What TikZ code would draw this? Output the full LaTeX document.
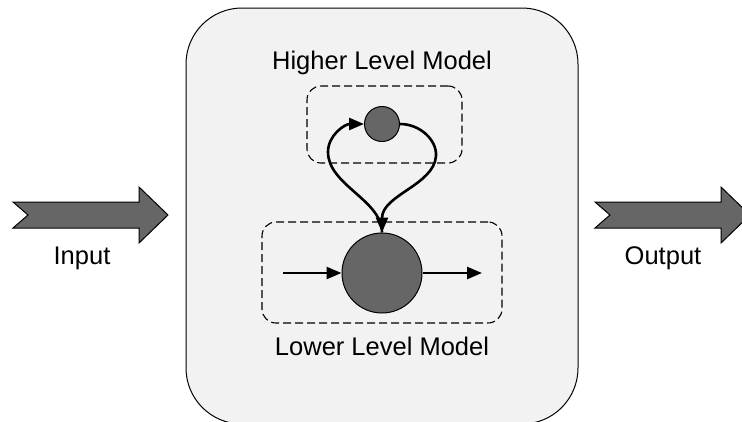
\documentclass[tikz,border=0pt]{standalone}
\usepackage{fontspec}
\setmainfont{Liberation Sans}
\usetikzlibrary{arrows.meta}
\definecolor{panel}{HTML}{F2F2F2}
\definecolor{blob}{HTML}{666666}
\tikzset{
  lbl/.style={font=\fontsize{25.5}{30}\selectfont, inner sep=0pt},
  unit/.style={circle, draw=black, line width=1pt, fill=blob, inner sep=0pt},
  group/.style={draw=black, line width=1.1pt, dash pattern=on 8pt off 4pt, rounded corners=14pt},
  tip/.style={-{Triangle[length=15pt,width=12pt]}},
  flow/.style={line width=2.6pt, tip},
  bigarrow/.style={draw=black, line width=1pt, fill=blob, line join=miter},
}
\begin{document}
\begin{tikzpicture}[x=1pt,y=-1pt]
\useasboundingbox (0,0) rectangle (742,421);
\clip (0,0) rectangle (742,421);
\fill[white] (0,0) rectangle (742,421);

% outer model container
\draw[fill=panel, line width=1pt, rounded corners=56pt] (186,8) rectangle (578,424);

% input and output block arrows
\draw[bigarrow] (13,202) -- (139,202) -- (139,187) -- (168,215) -- (139,243) -- (139,228) -- (13,228) -- (28,215) -- cycle;
\draw[bigarrow] (595,202) -- (721,202) -- (721,187) -- (750,215) -- (721,243) -- (721,228) -- (595,228) -- (610,215) -- cycle;
\node[lbl] (inlbl) at (82,258) {Input};
\node[lbl] (outlbl) at (663,258) {Output};

% group boxes
\node[group, minimum width=155pt, minimum height=77pt] (hbox) at (384.5,124.5) {};
\node[group, minimum width=240pt, minimum height=101pt] (lbox) at (382,272.5) {};
\node[lbl] (htitle) at (382,63) {Higher Level Model};
\node[lbl] (ltitle) at (382,346) {Lower Level Model};

% units
\node[unit, minimum size=35pt] (hi) at (382,124) {};
\node[unit, minimum size=80pt] (lo) at (382,273) {};
\coordinate (src) at (283,273);
\coordinate (dst) at (482,273);

% connectors
\draw[flow] (src) -- (lo.west);
\draw[flow] (lo.east) -- (dst);
\draw[flow] (lo.north) .. controls (382,200) and (328,185) .. (328,152)
  .. controls (328,135) and (345,124) .. (hi.west);
\draw[flow] (hi.east) .. controls (420,124) and (437,140) .. (436,156)
  .. controls (434,185) and (382,195) .. (lo.north);
\end{tikzpicture}
\end{document}
